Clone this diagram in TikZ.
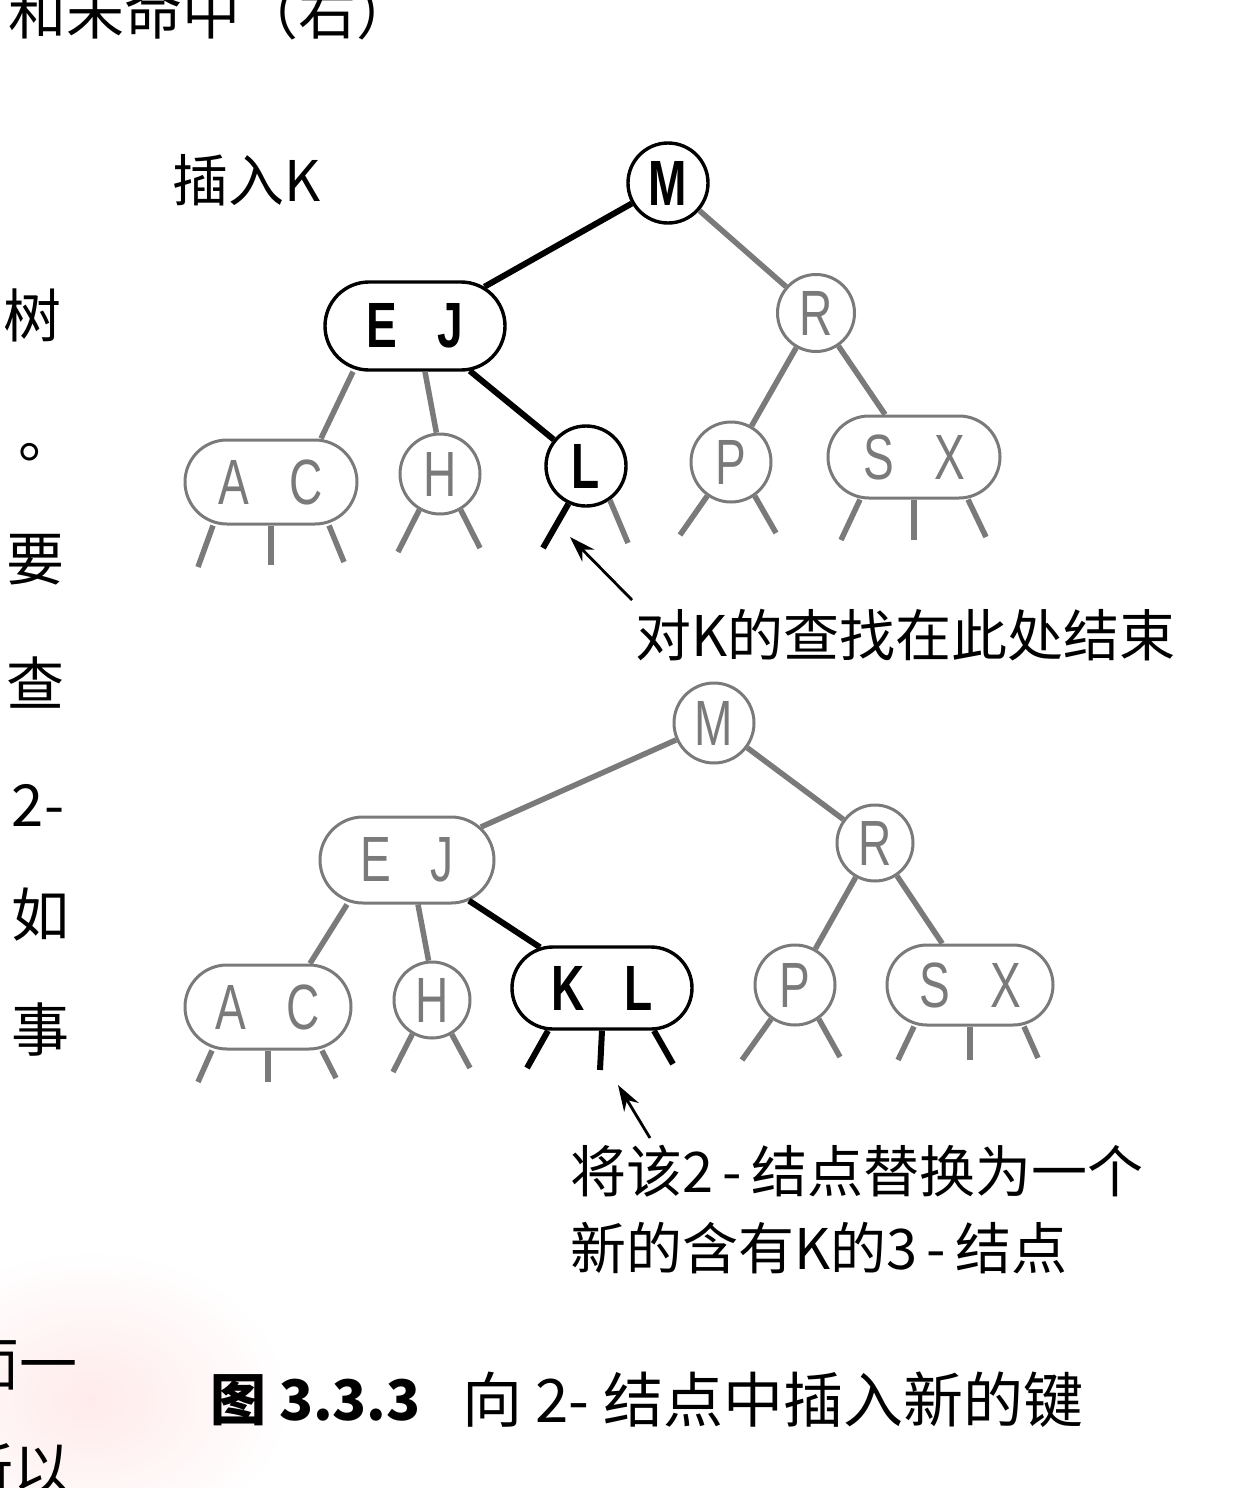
\documentclass[tikz,border=0pt]{standalone}
\usepackage{fontspec}
\newfontfamily\cjk{Noto Sans CJK SC}
\newfontfamily\ltr{Liberation Sans}
\usetikzlibrary{shapes.misc,calc,arrows.meta}
\colorlet{ink}{black!52}
\newcommand\keyltr[1]{\scalebox{0.72}[1]{#1}}
\begin{document}
\begin{tikzpicture}[x=1pt,y=-1pt,
  dknode/.style={draw=black,line width=3.4pt,text=black,font=\ltr\bfseries\fontsize{64}{64}\selectfont},
  ltnode/.style={draw=ink,line width=3pt,text=ink,font=\ltr\fontsize{64}{64}\selectfont},
  circ/.style={circle,minimum size=80pt,inner sep=0pt},
  pill/.style={rounded rectangle,minimum width=174pt,minimum height=84pt,inner sep=0pt},
  dkedge/.style={line width=6pt,black},
  ltedge/.style={line width=5.5pt,ink},
  arr/.style={line width=2.8pt,-{Stealth[length=26pt,width=17pt]}},
  lbl/.style={font=\cjk\fontsize{56}{77}\selectfont,inner sep=0pt},
  pagetxt/.style={font=\cjk\fontsize{58}{58}\selectfont,inner sep=0pt}
]
\path[use as bounding box] (0,0) rectangle (1260,1488);
\clip (0,0) rectangle (1260,1488);

% faint tint on the paper at the lower left
\shade[inner color=red!8,outer color=white] (90,1400) ellipse (200 and 150);

% surrounding page text
\node[pagetxt,anchor=west] (top) at (8,12) {和未命中（右）};
\node[pagetxt] (c1) at (33,315) {树};
\node[pagetxt] (c2) at (48,452) {。};
\node[pagetxt] (c3) at (35,560) {要};
\node[pagetxt] (c4) at (35,683) {查};
\node[pagetxt] (c5) at (38,805) {2-};
\node[pagetxt] (c6) at (40,915) {如};
\node[pagetxt] (c7) at (40,1030) {事};
\node[pagetxt,anchor=east] (c8) at (78,1365) {面一};
\node[pagetxt,anchor=east] (c9) at (72,1470) {所以};

% ---------- tree before insertion ----------
\node[lbl,anchor=west] (ins) at (172,180) {插入K};

\node[dknode,circ] (M1) at (668,183) {\keyltr{M}};
\node[dknode,pill,minimum width=180pt,minimum height=88pt] (EJ1) at (415,326) {\keyltr{E}\hspace{40pt}\keyltr{J}};
\node[ltnode,circ,minimum size=77pt] (R1) at (816,313) {\keyltr{R}};
\node[ltnode,pill,minimum width=172pt] (AC1) at (271,482) {\keyltr{A}\hspace{40pt}\keyltr{C}};
\node[ltnode,circ] (H1) at (440,474) {\keyltr{H}};
\node[dknode,circ] (L1) at (586,466) {\keyltr{L}};
\node[ltnode,circ] (P1) at (731,462) {\keyltr{P}};
\node[ltnode,pill,minimum width=172pt,minimum height=82pt] (SX1) at (914,457) {\keyltr{S}\hspace{40pt}\keyltr{X}};

\draw[dkedge] (M1) -- (EJ1);
\draw[ltedge] (M1) -- (R1);
\draw[ltedge] ($(EJ1.south)+(-62,0)$) -- ($(AC1.north)+(50,0)$);
\draw[ltedge] ($(EJ1.south)+(10,0)$) -- (H1.95);
\draw[dkedge] (EJ1) -- (L1);
\draw[ltedge] (R1) -- (P1);
\draw[ltedge] (R1) -- (SX1);

% empty links below the lower nodes
\coordinate (a1s1) at (198,567);
\coordinate (a1s2) at (271,565);
\coordinate (a1s3) at (344,562);
\coordinate (h1s1) at (398,552);
\coordinate (h1s2) at (480,548);
\coordinate (l1s1) at (543,548);
\coordinate (l1s2) at (628,543);
\coordinate (p1s1) at (680,535);
\coordinate (p1s2) at (776,533);
\coordinate (x1s1) at (841,540);
\coordinate (x1s2) at (914,540);
\coordinate (x1s3) at (986,537);
\draw[ltedge] ($(AC1.south)+(-58,0)$) -- (a1s1);
\draw[ltedge] (AC1.south) -- (a1s2);
\draw[ltedge] ($(AC1.south)+(58,0)$) -- (a1s3);
\draw[ltedge] (H1.-120) -- (h1s1);
\draw[ltedge] (H1.-60) -- (h1s2);
\draw[dkedge] (L1.-115) -- (l1s1);
\draw[ltedge] (L1.-55) -- (l1s2);
\draw[ltedge] (P1.-125) -- (p1s1);
\draw[ltedge] (P1.-55) -- (p1s2);
\draw[ltedge] ($(SX1.south)+(-54,0)$) -- (x1s1);
\draw[ltedge] (SX1.south) -- (x1s2);
\draw[ltedge] ($(SX1.south)+(54,0)$) -- (x1s3);

\coordinate (t1) at (632,600);
\coordinate (h1) at (570,537);
\draw[arr] (t1) -- (h1);
\node[lbl,anchor=west] (lab1) at (635,635) {对K的查找在此处结束};

% ---------- tree after insertion ----------
\node[ltnode,circ] (M2) at (714,723) {\keyltr{M}};
\node[ltnode,pill,minimum width=174pt,minimum height=86pt] (EJ2) at (407,860) {\keyltr{E}\hspace{40pt}\keyltr{J}};
\node[ltnode,circ,minimum size=76pt] (R2) at (875,843) {\keyltr{R}};
\node[ltnode,pill,minimum width=166pt] (AC2) at (268,1007) {\keyltr{A}\hspace{40pt}\keyltr{C}};
\node[ltnode,circ,minimum size=76pt] (H2) at (432,1000) {\keyltr{H}};
\node[dknode,pill,minimum width=180pt,minimum height=82pt] (KL2) at (602,988) {\keyltr{K}\hspace{40pt}\keyltr{L}};
\node[ltnode,circ] (P2) at (795,985) {\keyltr{P}};
\node[ltnode,pill,minimum width=166pt,minimum height=80pt] (SX2) at (970,985) {\keyltr{S}\hspace{40pt}\keyltr{X}};

\draw[ltedge] (M2) -- (EJ2);
\draw[ltedge] (M2) -- (R2);
\draw[ltedge] ($(EJ2.south)+(-60,0)$) -- ($(AC2.north)+(42,0)$);
\draw[ltedge] ($(EJ2.south)+(11,0)$) -- (H2.95);
\draw[dkedge] (EJ2) -- (KL2);
\draw[ltedge] (R2) -- (P2);
\draw[ltedge] (R2) -- (SX2);

\coordinate (a2s1) at (198,1082);
\coordinate (a2s2) at (268,1082);
\coordinate (a2s3) at (336,1078);
\coordinate (h2s1) at (393,1072);
\coordinate (h2s2) at (470,1068);
\coordinate (k2s1) at (527,1068);
\coordinate (k2s2) at (600,1070);
\coordinate (k2s3) at (673,1064);
\coordinate (p2s1) at (742,1060);
\coordinate (p2s2) at (840,1057);
\coordinate (x2s1) at (898,1060);
\coordinate (x2s2) at (970,1060);
\coordinate (x2s3) at (1038,1058);
\draw[ltedge] ($(AC2.south)+(-56,0)$) -- (a2s1);
\draw[ltedge] (AC2.south) -- (a2s2);
\draw[ltedge] ($(AC2.south)+(54,0)$) -- (a2s3);
\draw[ltedge] (H2.-120) -- (h2s1);
\draw[ltedge] (H2.-60) -- (h2s2);
\draw[dkedge] ($(KL2.south)+(-54,0)$) -- (k2s1);
\draw[dkedge] (KL2.south) -- (k2s2);
\draw[dkedge] ($(KL2.south)+(52,0)$) -- (k2s3);
\draw[ltedge] (P2.-125) -- (p2s1);
\draw[ltedge] (P2.-55) -- (p2s2);
\draw[ltedge] ($(SX2.south)+(-56,0)$) -- (x2s1);
\draw[ltedge] (SX2.south) -- (x2s2);
\draw[ltedge] ($(SX2.south)+(54,0)$) -- (x2s3);

\coordinate (t2) at (650,1138);
\coordinate (h2) at (618,1085);
\draw[arr] (t2) -- (h2);
\node[lbl,anchor=north west,align=left] (lab2) at (570,1145) {将该2\,-\,结点替换为一个\\新的含有K的3\,-\,结点};

% caption
\node[font=\cjk\bfseries\fontsize{56}{56}\selectfont,inner sep=0pt,anchor=west] (capnum) at (210,1400) {图 3.3.3};
\node[font=\cjk\fontsize{60}{60}\selectfont,inner sep=0pt,anchor=west] (captxt) at (462,1400) {向 2- 结点中插入新的键};
\end{tikzpicture}
\end{document}
